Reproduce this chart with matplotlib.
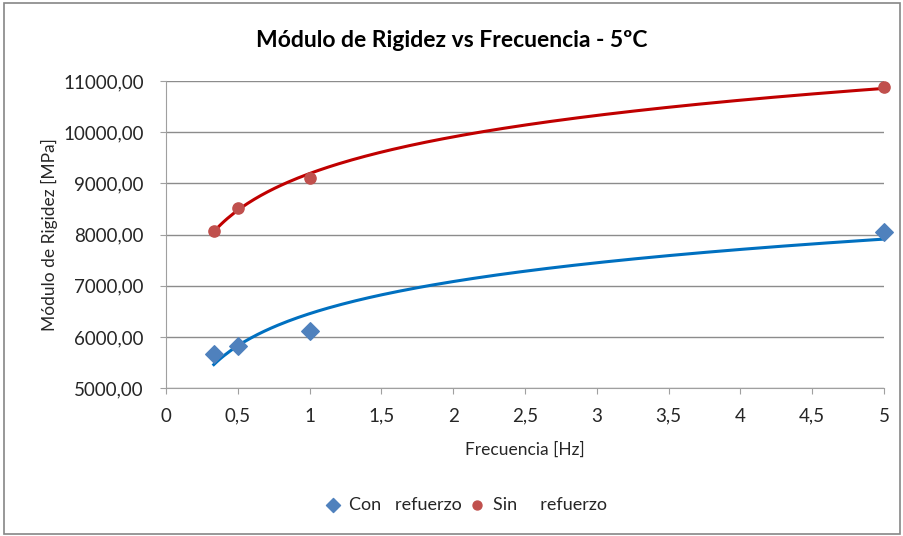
import numpy as np
import matplotlib
matplotlib.use("Agg")
import matplotlib.pyplot as plt
from matplotlib.patches import Rectangle
from matplotlib.ticker import FuncFormatter, MultipleLocator

plt.rcParams["font.family"] = ["Lato", "DejaVu Sans"]

frecuencia = [0.333, 0.5, 1.0, 5.0]
con_refuerzo = [5665, 5821, 6114, 8049]
sin_refuerzo = [8069, 8518, 9104, 10883]

fig = plt.figure(figsize=(9.04, 5.36), dpi=100)
ax = fig.add_axes([0.1836, 0.276, 0.7944, 0.573])

# frame around the whole chart
fig.patches.append(Rectangle((0.004, 0.004), 0.992, 0.99, transform=fig.transFigure,
                             fill=False, edgecolor="#868686", linewidth=1.2))


def log_trend(x, y):
    b, a = np.polyfit(np.log(x), y, 1)
    xs = np.linspace(min(x), max(x), 200)
    return xs, a + b * np.log(xs)


xs, ys = log_trend(frecuencia, sin_refuerzo)
ax.plot(xs, ys, color="#C00000", lw=2.2, zorder=2)
xs, ys = log_trend(frecuencia, con_refuerzo)
ax.plot(xs, ys, color="#0070C0", lw=2.2, zorder=2)

ax.scatter(frecuencia, con_refuerzo, marker="D", s=80, color="#4F81BD",
           label="Con   refuerzo", zorder=3, clip_on=False)
ax.scatter(frecuencia, sin_refuerzo, marker="o", s=65, color="#C0504D",
           label="Sin     refuerzo", zorder=3, clip_on=False)

ax.set_xlim(0, 5)
ax.set_ylim(5000, 11000)
ax.xaxis.set_major_locator(MultipleLocator(0.5))
ax.yaxis.set_major_locator(MultipleLocator(1000))
ax.xaxis.set_major_formatter(FuncFormatter(lambda v, p: f"{v:g}".replace(".", ",")))
ax.yaxis.set_major_formatter(FuncFormatter(lambda v, p: f"{v:.2f}".replace(".", ",")))

ax.grid(axis="y", color="#8C8C8C", lw=1)
ax.set_axisbelow(True)
for s in ["top", "right"]:
    ax.spines[s].set_visible(False)
for s in ["left", "bottom"]:
    ax.spines[s].set_color("#A0A0A0")
ax.tick_params(colors="#A0A0A0", labelcolor="#262626", labelsize=13.5, length=4)
ax.tick_params(axis="y", pad=12)
ax.tick_params(axis="x", pad=10)

ax.set_xlabel("Frecuencia [Hz]", fontsize=12.5, labelpad=12, color="#262626")
ax.set_ylabel("Módulo de Rigidez [MPa]", fontsize=12.5, labelpad=4, color="#262626")
fig.text(0.5, 0.925, "Módulo de Rigidez vs Frecuencia - 5ºC", ha="center", va="center",
         fontsize=16.5, fontweight="bold")

fig.legend(loc="center", bbox_to_anchor=(0.51, 0.058), ncol=2, frameon=False,
           fontsize=13, handletextpad=-0.1, columnspacing=-0.2, markerscale=0.8,
           labelcolor="#262626")

fig.savefig("out.png", dpi=100)
